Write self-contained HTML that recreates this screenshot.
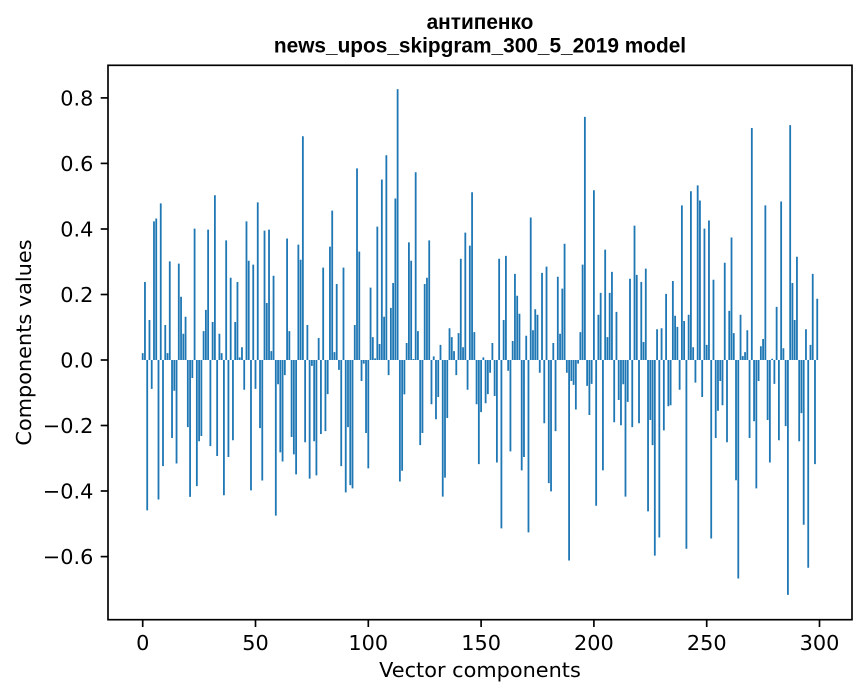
<!DOCTYPE html>
<html><head><meta charset="utf-8"><style>
html,body{margin:0;padding:0;background:#fff;}
svg{display:block;}
.t{font-family:"DejaVu Sans","Liberation Sans",sans-serif;font-size:20.83px;fill:#000;}
.ti{font-family:"Liberation Sans","DejaVu Sans",sans-serif;font-size:20.83px;font-weight:bold;fill:#000;}
</style></head><body>
<svg width="867" height="696" viewBox="0 0 867 696" xmlns="http://www.w3.org/2000/svg">
<rect x="0" y="0" width="867" height="696" fill="#fff"/>
<text class="ti" x="480" y="29" text-anchor="middle">антипенко</text>
<text class="ti" x="480" y="52.5" text-anchor="middle">news_upos_skipgram_300_5_2019 model</text>
<g transform="translate(142.7,360) scale(2.256,-327.6)">
<path fill="#1f77b4" d="M-.4 0h.8v.021h-.8zM.6 0h.8v.238h-.8zM1.6 0h.8v-.459h-.8zM2.6 0h.8v.122h-.8zM3.6 0h.8v-.088h-.8zM4.6 0h.8v.423h-.8zM5.6 0h.8v.432h-.8zM6.6 0h.8v-.426h-.8zM7.6 0h.8v.478h-.8zM8.6 0h.8v-.324h-.8zM9.6 0h.8v.107h-.8zM10.6 0h.8v.021h-.8zM11.6 0h.8v.301h-.8zM12.6 0h.8v-.238h-.8zM13.6 0h.8v-.094h-.8zM14.6 0h.8v-.316h-.8zM15.6 0h.8v.294h-.8zM16.6 0h.8v.193h-.8zM17.6 0h.8v.080h-.8zM18.6 0h.8v.132h-.8zM19.6 0h.8v-.205h-.8zM20.6 0h.8v-.418h-.8zM21.6 0h.8v-.055h-.8zM22.6 0h.8v.401h-.8zM23.6 0h.8v-.385h-.8zM24.6 0h.8v-.248h-.8zM25.6 0h.8v-.232h-.8zM26.6 0h.8v.088h-.8zM27.6 0h.8v.153h-.8zM28.6 0h.8v.398h-.8zM29.6 0h.8v-.263h-.8zM30.6 0h.8v.116h-.8zM31.6 0h.8v.503h-.8zM32.6 0h.8v-.293h-.8zM33.6 0h.8v.080h-.8zM34.6 0h.8v.021h-.8zM35.6 0h.8v-.413h-.8zM36.6 0h.8v.365h-.8zM37.6 0h.8v-.296h-.8zM38.6 0h.8v.251h-.8zM39.6 0h.8v-.245h-.8zM40.6 0h.8v.116h-.8zM41.6 0h.8v.238h-.8zM42.6 0h.8v.008h-.8zM43.6 0h.8v.039h-.8zM44.6 0h.8v-.091h-.8zM45.6 0h.8v.423h-.8zM46.6 0h.8v.303h-.8zM47.6 0h.8v-.398h-.8zM48.6 0h.8v.291h-.8zM49.6 0h.8v-.088h-.8zM50.6 0h.8v.481h-.8zM51.6 0h.8v-.208h-.8zM52.6 0h.8v-.368h-.8zM53.6 0h.8v.395h-.8zM54.6 0h.8v.174h-.8zM55.6 0h.8v.398h-.8zM56.6 0h.8v.027h-.8zM57.6 0h.8v.257h-.8zM58.6 0h.8v-.475h-.8zM59.6 0h.8v-.074h-.8zM60.6 0h.8v-.282h-.8zM61.6 0h.8v-.310h-.8zM62.6 0h.8v-.046h-.8zM63.6 0h.8v.371h-.8zM64.6 0h.8v.088h-.8zM65.6 0h.8v-.235h-.8zM66.6 0h.8v-.288h-.8zM67.6 0h.8v-.349h-.8zM68.6 0h.8v.352h-.8zM69.6 0h.8v.306h-.8zM70.6 0h.8v.683h-.8zM71.6 0h.8v-.251h-.8zM72.6 0h.8v.107h-.8zM73.6 0h.8v-.362h-.8zM74.6 0h.8v-.018h-.8zM75.6 0h.8v-.248h-.8zM76.6 0h.8v-.352h-.8zM77.6 0h.8v.067h-.8zM78.6 0h.8v-.226h-.8zM79.6 0h.8v.282h-.8zM80.6 0h.8v-.217h-.8zM81.6 0h.8v-.104h-.8zM82.6 0h.8v.346h-.8zM83.6 0h.8v.456h-.8zM84.6 0h.8v.024h-.8zM85.6 0h.8v.232h-.8zM86.6 0h.8v-.030h-.8zM87.6 0h.8v-.324h-.8zM88.6 0h.8v.282h-.8zM89.6 0h.8v-.404h-.8zM90.6 0h.8v-.205h-.8zM91.6 0h.8v-.382h-.8zM92.6 0h.8v-.392h-.8zM93.6 0h.8v.107h-.8zM94.6 0h.8v.585h-.8zM95.6 0h.8v.331h-.8zM96.6 0h.8v-.064h-.8zM97.6 0h.8v-.011h-.8zM98.6 0h.8v-.223h-.8zM99.6 0h.8v-.331h-.8zM100.6 0h.8v.221h-.8zM101.6 0h.8v.070h-.8zM102.6 0h.8v.005h-.8zM103.6 0h.8v.407h-.8zM104.6 0h.8v.049h-.8zM105.6 0h.8v.551h-.8zM106.6 0h.8v.132h-.8zM107.6 0h.8v.625h-.8zM108.6 0h.8v-.046h-.8zM109.6 0h.8v.159h-.8zM110.6 0h.8v.235h-.8zM111.6 0h.8v.493h-.8zM112.6 0h.8v.827h-.8zM113.6 0h.8v-.371h-.8zM114.6 0h.8v-.338h-.8zM115.6 0h.8v-.105h-.8zM116.6 0h.8v.052h-.8zM117.6 0h.8v.359h-.8zM118.6 0h.8v.303h-.8zM119.6 0h.8v.003h-.8zM120.6 0h.8v.573h-.8zM121.6 0h.8v.088h-.8zM122.6 0h.8v-.260h-.8zM123.6 0h.8v-.223h-.8zM124.6 0h.8v.232h-.8zM125.6 0h.8v.251h-.8zM126.6 0h.8v.365h-.8zM127.6 0h.8v-.135h-.8zM128.6 0h.8v.011h-.8zM129.6 0h.8v-.181h-.8zM130.6 0h.8v-.113h-.8zM131.6 0h.8v.046h-.8zM132.6 0h.8v-.417h-.8zM133.6 0h.8v-.359h-.8zM134.6 0h.8v-.177h-.8zM135.6 0h.8v.097h-.8zM136.6 0h.8v.070h-.8zM137.6 0h.8v.027h-.8zM138.6 0h.8v-.046h-.8zM139.6 0h.8v.082h-.8zM140.6 0h.8v.309h-.8zM141.6 0h.8v.039h-.8zM142.6 0h.8v.389h-.8zM143.6 0h.8v-.091h-.8zM144.6 0h.8v.349h-.8zM145.6 0h.8v.512h-.8zM146.6 0h.8v.085h-.8zM147.6 0h.8v-.135h-.8zM148.6 0h.8v-.318h-.8zM149.6 0h.8v-.159h-.8zM150.6 0h.8v.008h-.8zM151.6 0h.8v-.132h-.8zM152.6 0h.8v-.104h-.8zM153.6 0h.8v-.039h-.8zM154.6 0h.8v.052h-.8zM155.6 0h.8v-.110h-.8zM156.6 0h.8v-.313h-.8zM157.6 0h.8v.309h-.8zM158.6 0h.8v-.514h-.8zM159.6 0h.8v.122h-.8zM160.6 0h.8v.318h-.8zM161.6 0h.8v-.033h-.8zM162.6 0h.8v-.279h-.8zM163.6 0h.8v.058h-.8zM164.6 0h.8v.263h-.8zM165.6 0h.8v.196h-.8zM166.6 0h.8v.141h-.8zM167.6 0h.8v-.337h-.8zM168.6 0h.8v-.296h-.8zM169.6 0h.8v.074h-.8zM170.6 0h.8v-.526h-.8zM171.6 0h.8v.435h-.8zM172.6 0h.8v.091h-.8zM173.6 0h.8v.155h-.8zM174.6 0h.8v.138h-.8zM175.6 0h.8v-.039h-.8zM176.6 0h.8v.266h-.8zM177.6 0h.8v-.193h-.8zM178.6 0h.8v.285h-.8zM179.6 0h.8v-.376h-.8zM180.6 0h.8v-.401h-.8zM181.6 0h.8v.052h-.8zM182.6 0h.8v-.217h-.8zM183.6 0h.8v.254h-.8zM184.6 0h.8v.080h-.8zM185.6 0h.8v.218h-.8zM186.6 0h.8v.355h-.8zM187.6 0h.8v-.039h-.8zM188.6 0h.8v-.612h-.8zM189.6 0h.8v-.064h-.8zM190.6 0h.8v-.076h-.8zM191.6 0h.8v-.151h-.8zM192.6 0h.8v-.011h-.8zM193.6 0h.8v.085h-.8zM194.6 0h.8v.291h-.8zM195.6 0h.8v.742h-.8zM196.6 0h.8v-.079h-.8zM197.6 0h.8v-.168h-.8zM198.6 0h.8v-.073h-.8zM199.6 0h.8v.518h-.8zM200.6 0h.8v-.445h-.8zM201.6 0h.8v.138h-.8zM202.6 0h.8v.205h-.8zM203.6 0h.8v-.337h-.8zM204.6 0h.8v.337h-.8zM205.6 0h.8v.070h-.8zM206.6 0h.8v.205h-.8zM207.6 0h.8v.269h-.8zM208.6 0h.8v-.190h-.8zM209.6 0h.8v.147h-.8zM210.6 0h.8v-.122h-.8zM211.6 0h.8v-.199h-.8zM212.6 0h.8v-.074h-.8zM213.6 0h.8v-.417h-.8zM214.6 0h.8v-.128h-.8zM215.6 0h.8v.248h-.8zM216.6 0h.8v-.205h-.8zM217.6 0h.8v.410h-.8zM218.6 0h.8v.260h-.8zM219.6 0h.8v-.193h-.8zM220.6 0h.8v.238h-.8zM221.6 0h.8v.055h-.8zM222.6 0h.8v.279h-.8zM223.6 0h.8v-.462h-.8zM224.6 0h.8v-.183h-.8zM225.6 0h.8v-.260h-.8zM226.6 0h.8v-.597h-.8zM227.6 0h.8v.094h-.8zM228.6 0h.8v-.542h-.8zM229.6 0h.8v.097h-.8zM230.6 0h.8v-.215h-.8zM231.6 0h.8v.202h-.8zM232.6 0h.8v-.141h-.8zM233.6 0h.8v-.138h-.8zM234.6 0h.8v.241h-.8zM235.6 0h.8v.135h-.8zM236.6 0h.8v.101h-.8zM237.6 0h.8v-.091h-.8zM238.6 0h.8v.472h-.8zM239.6 0h.8v.119h-.8zM240.6 0h.8v-.576h-.8zM241.6 0h.8v.138h-.8zM242.6 0h.8v.515h-.8zM243.6 0h.8v.039h-.8zM244.6 0h.8v-.069h-.8zM245.6 0h.8v.533h-.8zM246.6 0h.8v.487h-.8zM247.6 0h.8v-.113h-.8zM248.6 0h.8v.401h-.8zM249.6 0h.8v.046h-.8zM250.6 0h.8v.426h-.8zM251.6 0h.8v-.545h-.8zM252.6 0h.8v.245h-.8zM253.6 0h.8v-.238h-.8zM254.6 0h.8v-.155h-.8zM255.6 0h.8v-.064h-.8zM256.6 0h.8v-.138h-.8zM257.6 0h.8v.297h-.8zM258.6 0h.8v-.251h-.8zM259.6 0h.8v.150h-.8zM260.6 0h.8v.374h-.8zM261.6 0h.8v.082h-.8zM262.6 0h.8v-.367h-.8zM263.6 0h.8v-.667h-.8zM264.6 0h.8v.138h-.8zM265.6 0h.8v.012h-.8zM266.6 0h.8v.024h-.8zM267.6 0h.8v.091h-.8zM268.6 0h.8v-.238h-.8zM269.6 0h.8v.708h-.8zM270.6 0h.8v-.187h-.8zM271.6 0h.8v-.392h-.8zM272.6 0h.8v-.064h-.8zM273.6 0h.8v.042h-.8zM274.6 0h.8v.064h-.8zM275.6 0h.8v.472h-.8zM276.6 0h.8v-.183h-.8zM277.6 0h.8v-.313h-.8zM278.6 0h.8v.004h-.8zM279.6 0h.8v-.073h-.8zM280.6 0h.8v.162h-.8zM281.6 0h.8v-.245h-.8zM282.6 0h.8v.484h-.8zM283.6 0h.8v.036h-.8zM284.6 0h.8v-.202h-.8zM285.6 0h.8v-.717h-.8zM286.6 0h.8v.717h-.8zM287.6 0h.8v.235h-.8zM288.6 0h.8v.122h-.8zM289.6 0h.8v.315h-.8zM290.6 0h.8v-.248h-.8zM291.6 0h.8v-.162h-.8zM292.6 0h.8v-.503h-.8zM293.6 0h.8v.094h-.8zM294.6 0h.8v-.634h-.8zM295.6 0h.8v.046h-.8zM296.6 0h.8v.263h-.8zM297.6 0h.8v-.318h-.8zM298.6 0h.8v.187h-.8z"/>
</g>
<rect x="108" y="65.3" width="744" height="554.4" fill="none" stroke="#000" stroke-width="1.67"/>
<g stroke="#000" stroke-width="1.67">
<line x1="100.7" y1="97.9" x2="108" y2="97.9"/>
<line x1="100.7" y1="163.4" x2="108" y2="163.4"/>
<line x1="100.7" y1="229" x2="108" y2="229"/>
<line x1="100.7" y1="294.5" x2="108" y2="294.5"/>
<line x1="100.7" y1="360" x2="108" y2="360"/>
<line x1="100.7" y1="425.5" x2="108" y2="425.5"/>
<line x1="100.7" y1="491" x2="108" y2="491"/>
<line x1="100.7" y1="556.6" x2="108" y2="556.6"/>
<line x1="142.7" y1="619.7" x2="142.7" y2="627"/>
<line x1="255.5" y1="619.7" x2="255.5" y2="627"/>
<line x1="368.3" y1="619.7" x2="368.3" y2="627"/>
<line x1="481.1" y1="619.7" x2="481.1" y2="627"/>
<line x1="593.9" y1="619.7" x2="593.9" y2="627"/>
<line x1="706.7" y1="619.7" x2="706.7" y2="627"/>
<line x1="819.5" y1="619.7" x2="819.5" y2="627"/>
</g>
<g class="t" text-anchor="end">
<text x="93.4" y="105.5">0.8</text>
<text x="93.4" y="171">0.6</text>
<text x="93.4" y="236.6">0.4</text>
<text x="93.4" y="302.1">0.2</text>
<text x="93.4" y="367.6">0.0</text>
<text x="93.4" y="433.1">−0.2</text>
<text x="93.4" y="498.6">−0.4</text>
<text x="93.4" y="564.2">−0.6</text>
</g>
<g class="t" text-anchor="middle">
<text x="142.7" y="650">0</text>
<text x="255.5" y="650">50</text>
<text x="368.3" y="650">100</text>
<text x="481.1" y="650">150</text>
<text x="593.9" y="650">200</text>
<text x="706.7" y="650">250</text>
<text x="819.5" y="650">300</text>
<text x="480" y="677">Vector components</text>
<text transform="translate(31,342.5) rotate(-90)">Components values</text>
</g>
</svg>
</body></html>
